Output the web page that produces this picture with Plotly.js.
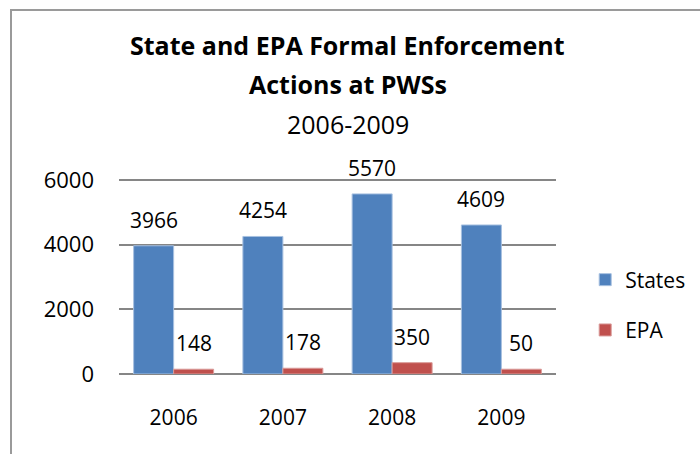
<!DOCTYPE html>
<html>
<head>
<meta charset="utf-8">
<script src="https://cdn.plot.ly/plotly-3.0.1.min.js"></script>
<style>
  html, body { margin: 0; padding: 0; background: #fff; }
  #wrap { position: relative; width: 700px; height: 454px; overflow: hidden; }
  #chart { position: absolute; left: 0; top: 0; width: 700px; height: 454px; }
  #frame { position: absolute; left: 10px; top: 9px; width: 700px; height: 460px;
           border-left: 2px solid #9a9a9a; border-top: 2px solid #9a9a9a; pointer-events: none; }
</style>
</head>
<body>
<div id="wrap">
  <div id="chart"></div>
  <div id="frame"></div>
</div>
<script>
// ---- data ----
const years = ["2006", "2007", "2008", "2009"];
const statesValues = [3966, 4254, 5570, 4609];
// EPA bar heights as drawn in the picture (2009 bar drawn at about the 2006 height)
const epaValues = [148, 178, 350, 148];
// EPA data labels as printed
const epaLabels = ["148", "178", "350", "50"];
const statesLabels = statesValues.map(String);
const yTicks = [0, 2000, 4000, 6000];

const FONT = "Open Sans, Noto Sans, sans-serif";
const BLUE = "#4F81BD";
const RED = "#C0504D";

const traces = [
  { type: "bar", name: "States", x: years, y: statesValues, legendgroup: "a",
    marker: { color: BLUE, line: { color: "#a7c0e0", width: 1 } }, hoverinfo: "none" },
  { type: "bar", name: "EPA", x: years, y: epaValues, legendgroup: "b",
    marker: { color: RED, line: { color: "#d99a98", width: 1 } }, hoverinfo: "none" }
];

const annotations = [];
years.forEach((yr, i) => {
  annotations.push({ xref: "x", yref: "y", x: i, y: statesValues[i], text: statesLabels[i],
    showarrow: false, xshift: -20, yshift: 10, yanchor: "bottom",
    font: { family: FONT, size: 21, color: "#000" } });
  annotations.push({ xref: "x", yref: "y", x: i, y: epaValues[i], text: epaLabels[i],
    showarrow: false, xshift: 20, yshift: 10, yanchor: "bottom",
    font: { family: FONT, size: 21, color: "#000" } });
});
// title lines
annotations.push({ xref: "paper", yref: "paper", x: 0.524, y: 1.670, yanchor: "middle", showarrow: false,
  text: "<b>State and EPA Formal Enforcement</b>", font: { family: FONT, size: 25, color: "#000" } });
annotations.push({ xref: "paper", yref: "paper", x: 0.524, y: 1.474, yanchor: "middle", showarrow: false,
  text: "<b>Actions at PWSs</b>", font: { family: FONT, size: 25, color: "#000" } });
annotations.push({ xref: "paper", yref: "paper", x: 0.524, y: 1.268, yanchor: "middle", showarrow: false,
  text: "2006-2009", font: { family: FONT, size: 25, color: "#000" } });

const layout = {
  width: 700, height: 454,
  margin: { l: 119, r: 144, t: 177, b: 80, pad: 0, autoexpand: false },
  paper_bgcolor: "#fff", plot_bgcolor: "#fff",
  font: { family: FONT, size: 21, color: "#000" },
  barmode: "group", bargap: 0.268, bargroupgap: 0,
  showlegend: true,
  legend: { xref: "container", yref: "container", x: 0.836, xanchor: "left",
    y: 1 - 305 / 454, yanchor: "middle",
    traceorder: "grouped", tracegroupgap: 20, itemwidth: 30,
    font: { family: FONT, size: 21, color: "#000" }, bgcolor: "rgba(0,0,0,0)" },
  xaxis: { type: "category", range: [-0.5, 3.5], autorange: false,
    showgrid: false, showline: false, zeroline: false,
    ticks: "", ticklabelstandoff: 29, tickfont: { family: FONT, size: 21 } },
  yaxis: { range: [0, 6093], autorange: false, tickvals: yTicks, ticktext: yTicks.map(String),
    showgrid: true, gridcolor: "#868686", gridwidth: 2,
    zeroline: true, zerolinecolor: "#868686", zerolinewidth: 2,
    showline: false, ticks: "", ticklabelstandoff: 24, tickfont: { family: FONT, size: 22 } },
  annotations: annotations
};

Plotly.newPlot("chart", traces, layout, { staticPlot: true, displayModeBar: false });
</script>
</body>
</html>
